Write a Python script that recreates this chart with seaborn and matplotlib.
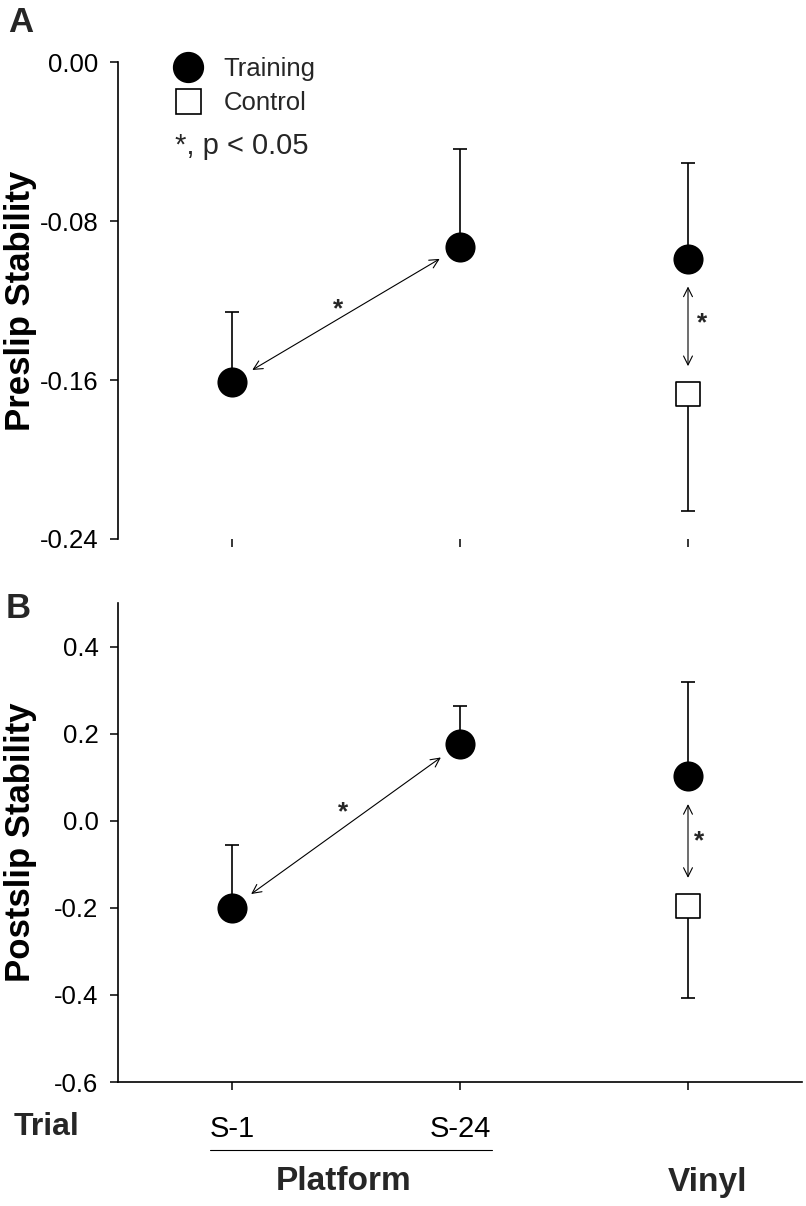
import pandas as pd
import matplotlib
matplotlib.use('Agg')
import matplotlib.pyplot as plt
import seaborn as sns
from matplotlib.lines import Line2D

# dados
trials = ['S-1', 'S-24', 'Vinyl']
trial_pos = [1, 2, 3]

pre_train = [-0.161, -0.093, -0.099]
pre_train_err = [0.035, 0.049, 0.048]
pre_ctrl = [-0.167]
pre_ctrl_err = [0.059]

post_train = [-0.200, 0.177, 0.102]
post_train_err = [0.145, 0.086, 0.217]
post_ctrl = [-0.195]
post_ctrl_err = [0.212]

# pares com diferença significativa (grupo, indice)
sig_pairs = [(('Training', 0), ('Training', 1)), (('Training', 2), ('Control', 2))]

sns.set_style('white')
plt.rcParams['font.family'] = ['Liberation Sans', 'DejaVu Sans']

fig = plt.figure(figsize=(8.06, 12.06), dpi=100)
axA = fig.add_axes([118 / 806, 1 - 539 / 1206, 684 / 806, 477 / 1206])
axB = fig.add_axes([118 / 806, 1 - 1082 / 1206, 684 / 806, 479 / 1206])


def painel(ax, train, train_err, ctrl, ctrl_err, ylim, yticks, fmt, star_off):
    df_t = pd.DataFrame({'x': trial_pos, 'y': train, 'Grupo': 'Training'})
    df_c = pd.DataFrame({'x': trial_pos[2:], 'y': ctrl, 'Grupo': 'Control'})

    # barras de erro só para um lado
    ax.errorbar(df_t['x'], df_t['y'], yerr=[[0] * len(train), train_err], fmt='none',
                ecolor='black', elinewidth=1.2, capsize=5, capthick=1.2, zorder=1)
    ax.errorbar(df_c['x'], df_c['y'], yerr=[ctrl_err, [0] * len(ctrl)], fmt='none',
                ecolor='black', elinewidth=1.2, capsize=5, capthick=1.2, zorder=1)

    sns.scatterplot(data=df_t, x='x', y='y', marker='o', s=470, color='black',
                    edgecolor='black', linewidth=0, ax=ax, zorder=3, legend=False)
    sns.scatterplot(data=df_c, x='x', y='y', marker='s', s=320, color='white',
                    edgecolor='black', linewidth=1.2, ax=ax, zorder=3, legend=False)

    pts = {'Training': dict(zip(range(3), train)), 'Control': {2: ctrl[0]}}
    for (p1, p2), off in zip(sig_pairs, star_off):
        x1, y1 = trial_pos[p1[1]], pts[p1[0]][p1[1]]
        x2, y2 = trial_pos[p2[1]], pts[p2[0]][p2[1]]
        shr = 17 if x1 != x2 else 20
        ax.annotate('', xy=(x2, y2), xytext=(x1, y1),
                    arrowprops=dict(arrowstyle='<->', color='black', lw=0.8,
                                    shrinkA=shr, shrinkB=shr, mutation_scale=16))
        ax.annotate('*', xy=((x1 + x2) / 2, (y1 + y2) / 2), xytext=off,
                    textcoords='offset points', ha='center', va='center',
                    fontsize=19, fontweight='bold')

    ax.set_xlim(0.5, 3.5)
    ax.set_ylim(*ylim)
    ax.set_yticks(yticks)
    ax.set_yticklabels([fmt.format(v) for v in yticks])
    ax.set_xticks(trial_pos)
    ax.set_xlabel('')
    ax.set_ylabel('')
    for s in ['top', 'right']:
        ax.spines[s].set_visible(False)
    for s in ['left', 'bottom']:
        ax.spines[s].set_color('black')
        ax.spines[s].set_linewidth(1.2)
    ax.tick_params(axis='both', direction='out', length=6, width=1.1, color='black',
                   labelsize=18.5, labelcolor='black', left=True, bottom=True)
    ax.tick_params(axis='y', pad=8)


painel(axA, pre_train, pre_train_err, pre_ctrl, pre_ctrl_err, (-0.24, 0.0),
       [0.0, -0.08, -0.16, -0.24], '{:.2f}', [(-6, 4), (10, 2)])
painel(axB, post_train, post_train_err, post_ctrl, post_ctrl_err, (-0.6, 0.5),
       [0.4, 0.2, 0.0, -0.2, -0.4, -0.6], '{:.1f}', [(-2, 10), (8, 0)])

axA.spines['bottom'].set_visible(False)
axA.set_xticklabels([])
axB.set_xticklabels(trials[:2] + [''])
axB.tick_params(axis='x', pad=18, labelsize=21)

axA.set_ylabel('Preslip Stability', fontsize=25, fontweight='bold', color='black')
axB.set_ylabel('Postslip Stability', fontsize=25, fontweight='bold', color='black')
axA.yaxis.set_label_coords(-0.118, 0.5)
axB.yaxis.set_label_coords(-0.118, 0.5)

# legenda
handles = [Line2D([], [], marker='o', ls='', color='black', markersize=21.5),
           Line2D([], [], marker='s', ls='', markerfacecolor='white',
                  markeredgecolor='black', markeredgewidth=1.2, markersize=18)]
fig.legend(handles, ['Training', 'Control'], loc='upper left',
           bbox_to_anchor=(162 / 806, 1 - 57 / 1206), frameon=False, fontsize=18.5,
           handletextpad=0.4, labelspacing=0.4, borderpad=0, borderaxespad=0)
fig.text(175 / 806, 1 - 146 / 1206, '*, p < 0.05', fontsize=21, va='center', ha='left')

# letras dos paineis
fig.text(21 / 806, 1 - 23 / 1206, 'A', fontsize=25, fontweight='bold', ha='center', va='center')
fig.text(18 / 806, 1 - 608 / 1206, 'B', fontsize=25, fontweight='bold', ha='center', va='center')

# rótulos inferiores
fig.text(47 / 806, 1 - 1127 / 1206, 'Trial', fontsize=23, fontweight='bold', ha='center', va='center')
fig.add_artist(Line2D([210 / 806, 492 / 806], [1 - 1150 / 1206, 1 - 1150 / 1206],
                      color='black', lw=0.8))
fig.text(344 / 806, 1 - 1182 / 1206, 'Platform', fontsize=24, fontweight='bold', ha='center', va='center')
fig.text(708 / 806, 1 - 1182 / 1206, 'Vinyl', fontsize=24, fontweight='bold', ha='center', va='center')

fig.savefig('out.png', dpi=100)
